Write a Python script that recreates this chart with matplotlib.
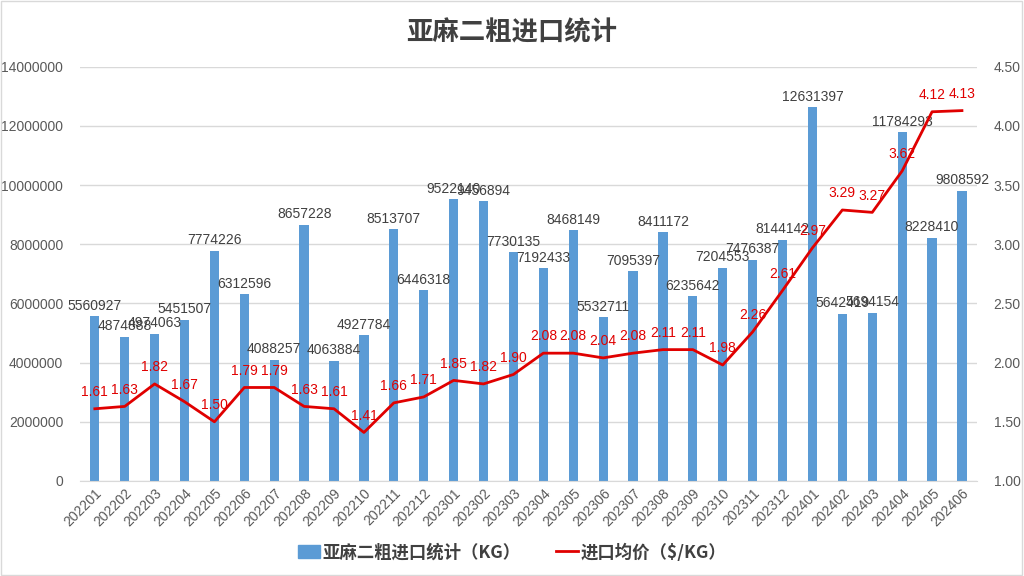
import numpy as np
import matplotlib
matplotlib.use("Agg")
import matplotlib.pyplot as plt
from matplotlib.patches import Rectangle
from matplotlib.lines import Line2D
from matplotlib.patches import Patch

plt.rcParams['font.family'] = ['Liberation Sans', 'Noto Sans CJK SC', 'DejaVu Sans']

# ---------- data ----------
months = ["202201", "202202", "202203", "202204", "202205", "202206", "202207", "202208",
          "202209", "202210", "202211", "202212", "202301", "202302", "202303", "202304",
          "202305", "202306", "202307", "202308", "202309", "202310", "202311", "202312",
          "202401", "202402", "202403", "202404", "202405", "202406"]
volume_kg = [5560927, 4874888, 4974063, 5451507, 7774226, 6312596, 4088257, 8657228,
             4063884, 4927784, 8513707, 6446318, 9522140, 9456894, 7730135, 7192433,
             8468149, 5532711, 7095397, 8411172, 6235642, 7204553, 7476387, 8144142,
             12631397, 5642419, 5694154, 11784293, 8228410, 9808592]
price = [1.61, 1.63, 1.82, 1.67, 1.50, 1.79, 1.79, 1.63, 1.61, 1.41, 1.66, 1.71,
         1.85, 1.82, 1.90, 2.08, 2.08, 2.04, 2.08, 2.11, 2.11, 1.98, 2.26, 2.61,
         2.97, 3.29, 3.27, 3.62, 4.12, 4.13]

bar_color = "#5B9BD5"
line_color = "#E00000"
txt = "#595959"
cjk = ['Noto Sans CJK SC', 'DejaVu Sans']

fig = plt.figure(figsize=(10.24, 5.76), dpi=100)
ax = fig.add_axes([0.078, 0.165, 0.876, 0.719])
ax2 = ax.twinx()

# ---------- bars: import volume ----------
x = np.arange(len(months))
ax.bar(x, volume_kg, width=0.31, color=bar_color, zorder=2)
ax.set_ylim(0, 14000000)
ax.set_yticks(np.arange(0, 14000001, 2000000))
ax.set_yticklabels([f"{int(v)}" for v in np.arange(0, 14000001, 2000000)])
ax.set_xlim(-0.5, len(months) - 0.5)
ax.set_xticks(x)
ax.set_xticklabels(months, rotation=45, ha="right", rotation_mode="anchor")
ax.grid(axis="y", color="#D9D9D9", lw=1, zorder=0)
ax.set_axisbelow(True)
for s in ["top", "right", "left"]:
    ax.spines[s].set_visible(False)
ax.spines["bottom"].set_color("#D9D9D9")
ax.tick_params(axis="both", length=0, colors=txt, labelsize=10)
ax.tick_params(axis="y", pad=12)

for xi, v in zip(x, volume_kg):
    ax.text(xi, v + 120000, f"{v}", ha="center", va="bottom", fontsize=10, color="#404040", zorder=5)

# ---------- line: average price ----------
ax2.plot(x, price, color=line_color, lw=2, zorder=3)
ax2.set_ylim(1.0, 4.5)
ax2.set_yticks(np.arange(1.0, 4.51, 0.5))
ax2.set_yticklabels([f"{v:.2f}" for v in np.arange(1.0, 4.51, 0.5)])
for s in ["top", "right", "left", "bottom"]:
    ax2.spines[s].set_visible(False)
ax2.tick_params(axis="y", length=0, colors=txt, labelsize=10, pad=12)

for xi, p in zip(x, price):
    ax2.annotate(f"{p:.2f}", (xi, p), xytext=(0, 7), textcoords="offset points",
                 ha="center", va="bottom", fontsize=10, color=line_color)

fig.text(0.5, 0.942, "亚麻二粗进口统计", ha="center", va="center", fontsize=19,
         fontweight="bold", color="#404040", family=cjk)

handles = [Patch(color=bar_color), Line2D([0], [0], color=line_color, lw=2)]
fig.legend(handles, ["亚麻二粗进口统计（KG）", "进口均价（$/KG）"], loc="center",
           bbox_to_anchor=(0.5, 0.041), ncol=2, frameon=False, columnspacing=2.0,
           handlelength=1.3, handletextpad=0.15,
           prop={"family": cjk, "size": 12.5, "weight": "bold"}, labelcolor="#404040")

fig.patches.append(Rectangle((0.001, 0.001), 0.997, 0.997, transform=fig.transFigure,
                             fill=False, edgecolor="#D9D9D9", lw=1))

fig.savefig("out.png", dpi=100)
